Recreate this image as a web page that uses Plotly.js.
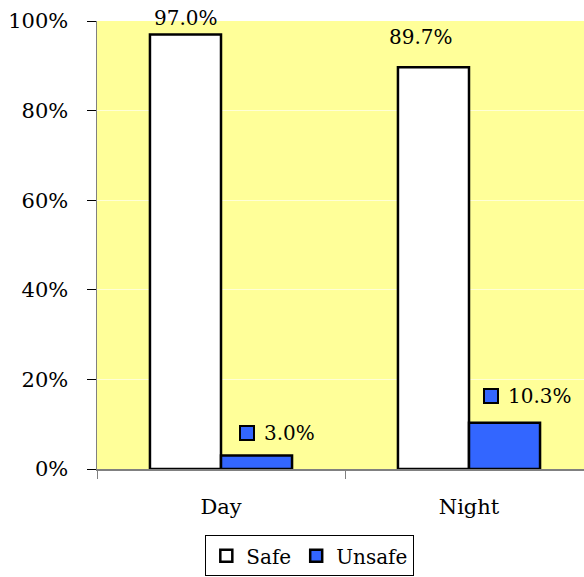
<!DOCTYPE html>
<html>
<head>
<meta charset="utf-8">
<script src="https://cdn.plot.ly/plotly-3.0.1.min.js"></script>
<style>html,body{margin:0;padding:0;background:#fff;}#chart{width:584px;height:577px;}</style>
</head>
<body>
<div id="chart"></div>
<script>
const categories = ["Day", "Night"];
const seriesNames = ["Safe", "Unsafe"];
const safeValues = [97.0, 89.7];
const unsafeValues = [3.0, 10.3];
const yTickVals = [0, 20, 40, 60, 80, 100];
const yTickText = ["0%", "20%", "40%", "60%", "80%", "100%"];

const FONT = "DejaVu Serif";
const BLUE = "#3366FF";

const traces = [
  {type: "bar", name: seriesNames[0], x: categories, y: safeValues,
   marker: {color: "#FFFFFF", line: {color: "#000000", width: 2.5}}, hoverinfo: "none"},
  {type: "bar", name: seriesNames[1], x: categories, y: unsafeValues,
   marker: {color: BLUE, line: {color: "#000000", width: 2.5}}, hoverinfo: "none"}
];

const fmt = v => v.toFixed(1) + "%";
const annotations = [];
// label placement offsets (pixels)
const safeXShift = [0, -13];
const safeYShift = [2, 16];
const unsafeTextX = [6, 2];
const unsafeKeyX = [-9, -13];
const unsafeY = [23, 27];
safeValues.forEach((v, i) => {
  annotations.push({x: i - 0.143, y: v, xref: "x", yref: "y", text: fmt(v),
    showarrow: false, yanchor: "bottom", xshift: safeXShift[i], yshift: safeYShift[i],
    font: {family: FONT, size: 20, color: "#000"}});
});
unsafeValues.forEach((v, i) => {
  annotations.push({x: i + 0.143, y: v, xref: "x", yref: "y", text: fmt(v),
    showarrow: false, xanchor: "left", yanchor: "middle", xshift: unsafeTextX[i], yshift: unsafeY[i],
    font: {family: FONT, size: 20, color: "#000"}});
  annotations.push({x: i + 0.143, y: v, xref: "x", yref: "y", text: "",
    showarrow: false, xanchor: "center", yanchor: "middle", xshift: unsafeKeyX[i], yshift: unsafeY[i],
    width: 12, height: 12, bgcolor: BLUE, bordercolor: "#000", borderwidth: 2, borderpad: 0});
});

const layout = {
  width: 584, height: 577,
  margin: {l: 97, r: 0, t: 21, b: 108, autoexpand: false},
  paper_bgcolor: "#FFFFFF",
  plot_bgcolor: "#FFFF99",
  font: {family: FONT, color: "#000"},
  barmode: "group",
  bargap: 0.427,
  bargroupgap: 0,
  showlegend: true,
  legend: {orientation: "h", x: 0.437, xanchor: "center", y: -0.148, yanchor: "top",
    bordercolor: "#000", borderwidth: 1, bgcolor: "#fff",
    font: {family: FONT, size: 20, color: "#000"}, itemwidth: 30, traceorder: "normal"},
  xaxis: {type: "category", range: [-0.5, 1.4637], tickson: "boundaries",
    ticks: "outside", ticklen: 8, tickcolor: "#808080", tickwidth: 1,
    showline: true, linecolor: "#808080", linewidth: 1.5, showgrid: false,
    ticklabelstandoff: 18,
    tickfont: {family: FONT, size: 21, color: "#000"}, fixedrange: true},
  yaxis: {range: [0, 100], tickvals: yTickVals, ticktext: yTickText,
    ticks: "outside", ticklen: 9, tickcolor: "#000", tickwidth: 1,
    showline: true, linecolor: "#808080", linewidth: 1.5,
    ticklabelstandoff: 14,
    showgrid: true, gridcolor: "rgba(255,255,255,0.6)", gridwidth: 1, zeroline: false,
    tickfont: {family: FONT, size: 21, color: "#000"}, fixedrange: true},
  annotations: annotations
};

Plotly.newPlot("chart", traces, layout, {displayModeBar: false, staticPlot: true});
</script>
</body>
</html>
